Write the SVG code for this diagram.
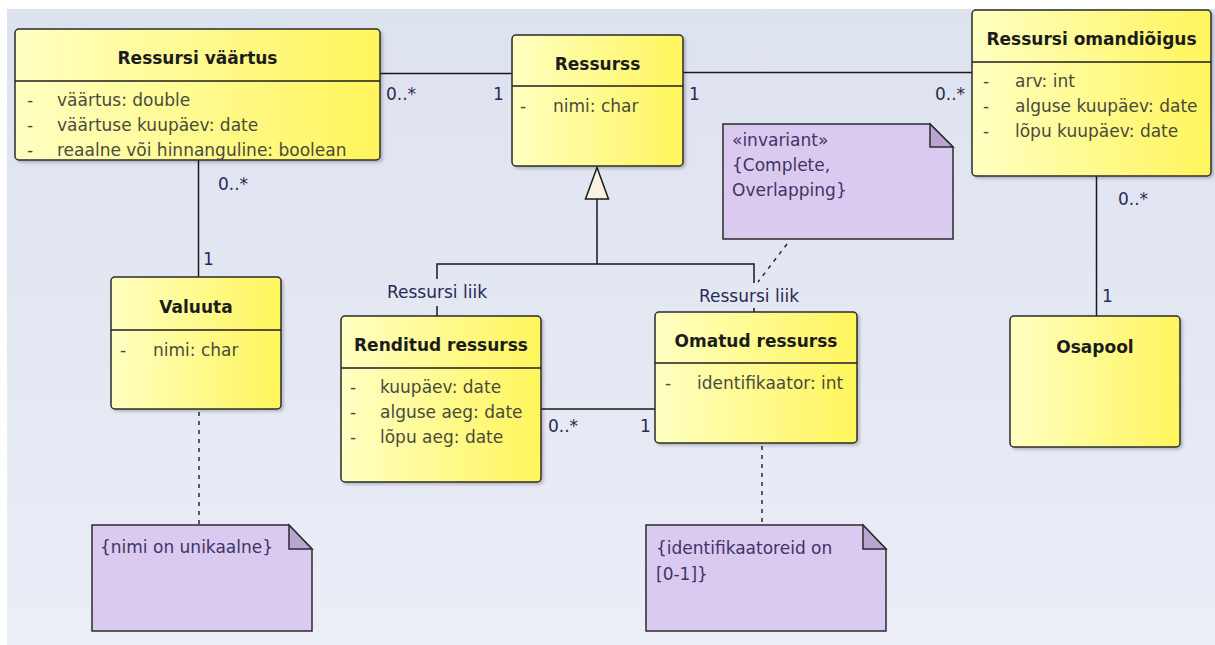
<svg xmlns="http://www.w3.org/2000/svg" width="1215" height="645" viewBox="0 0 1215 645">
  <defs>
    <linearGradient id="bg" x1="0" y1="0" x2="0" y2="1">
      <stop offset="0" stop-color="#dde2ef"/>
      <stop offset="1" stop-color="#ebeef7"/>
    </linearGradient>
    <linearGradient id="classFill" x1="0" y1="0" x2="1" y2="0">
      <stop offset="0" stop-color="#ffffc2"/>
      <stop offset="1" stop-color="#fff55c"/>
    </linearGradient>
    <filter id="shadow" x="-10%" y="-10%" width="120%" height="120%">
      <feDropShadow dx="2" dy="2" stdDeviation="1.5" flood-color="#000" flood-opacity="0.22"/>
    </filter>
    <style>
      .cls { fill: url(#classFill); stroke: #2b2b2b; stroke-width: 1.5; filter: url(#shadow); }
      .div { stroke: #1e1e1e; stroke-width: 1.5; }
      .note { fill: #dbcaef; stroke: #2b2b2b; stroke-width: 1.5; }
      .fold { fill: #b8a5d0; stroke: #2b2b2b; stroke-width: 1.5; stroke-linejoin: miter; }
      .title { font-family: "DejaVu Sans", sans-serif; font-weight: bold; font-size: 17px; fill: #1c1c1c; text-anchor: middle; }
      .attr { font-family: "DejaVu Sans", sans-serif; font-size: 17px; fill: #4a4a3c; }
      .lbl { font-family: "DejaVu Sans", sans-serif; font-size: 17px; fill: #2a2a55; }
      .ntext { font-family: "DejaVu Sans", sans-serif; font-size: 17px; fill: #3e3468; }
      .line { fill: none; stroke: #1a1a1a; stroke-width: 1.5; }
      .dash { fill: none; stroke: #2a2a2a; stroke-width: 1.5; stroke-dasharray: 4 5; }
    </style>
  </defs>

  <!-- canvas -->
  <rect x="0" y="0" width="1215" height="645" fill="#ffffff"/>
  <rect x="7" y="9" width="1208" height="636" fill="url(#bg)"/>

  <!-- connectors -->
  <g id="connectors">
    <!-- Ressursi väärtus — Ressurss -->
    <line class="line" x1="380" y1="73.5" x2="512" y2="73.5"/>
    <text class="lbl" x="386" y="100">0..*</text>
    <text class="lbl" x="493" y="100">1</text>
    <!-- Ressurss — Ressursi omandiõigus -->
    <line class="line" x1="683" y1="72.5" x2="972" y2="72.5"/>
    <text class="lbl" x="689" y="100">1</text>
    <text class="lbl" x="935" y="100">0..*</text>
    <!-- Ressursi väärtus — Valuuta -->
    <line class="line" x1="198.5" y1="160" x2="198.5" y2="277"/>
    <text class="lbl" x="218" y="190">0..*</text>
    <text class="lbl" x="203" y="265">1</text>
    <!-- Ressursi omandiõigus — Osapool -->
    <line class="line" x1="1096.5" y1="176" x2="1096.5" y2="316"/>
    <text class="lbl" x="1118" y="205">0..*</text>
    <text class="lbl" x="1102" y="302">1</text>
    <!-- Renditud ressurss — Omatud ressurss -->
    <line class="line" x1="541" y1="409" x2="655" y2="409"/>
    <text class="lbl" x="548" y="432">0..*</text>
    <text class="lbl" x="640" y="432">1</text>
    <!-- generalization to Ressurss -->
    <polyline class="line" points="437,279 437,264 754,264 754,283"/>
    <line class="line" x1="597" y1="264" x2="597" y2="199"/>
    <polygon points="597,167.5 585.5,199 608.5,199" fill="#fbf1e2" stroke="#1a1a1a" stroke-width="1.5"/>
    <line class="line" x1="437" y1="306" x2="437" y2="316"/>
    <line class="line" x1="754" y1="308" x2="754" y2="312"/>
    <text class="lbl" x="437" y="298" text-anchor="middle">Ressursi liik</text>
    <text class="lbl" x="749" y="302" text-anchor="middle">Ressursi liik</text>
    <!-- note links -->
    <line class="dash" x1="787" y1="244" x2="758" y2="282"/>
    <line class="dash" x1="199" y1="412" x2="199" y2="525"/>
    <line class="dash" x1="762" y1="446" x2="762" y2="525"/>
  </g>

  <!-- classes -->
  <g id="ressursi-vaartus">
    <rect class="cls" x="15" y="29" width="365" height="131" rx="4"/>
    <line class="div" x1="15" y1="81" x2="380" y2="81"/>
    <text class="title" x="197.5" y="64">Ressursi väärtus</text>
    <text class="attr" x="27" y="106">-</text>
    <text class="attr" x="57" y="106">väärtus: double</text>
    <text class="attr" x="27" y="131">-</text>
    <text class="attr" x="57" y="131">väärtuse kuupäev: date</text>
    <text class="attr" x="27" y="156">-</text>
    <text class="attr" x="57" y="156">reaalne või hinnanguline: boolean</text>
  </g>

  <g id="ressurss">
    <rect class="cls" x="512" y="35" width="171" height="131" rx="4"/>
    <line class="div" x1="512" y1="86" x2="683" y2="86"/>
    <text class="title" x="597.5" y="70">Ressurss</text>
    <text class="attr" x="520" y="112">-</text>
    <text class="attr" x="553" y="112">nimi: char</text>
  </g>

  <g id="ressursi-omandioigus">
    <rect class="cls" x="972" y="10" width="239" height="166" rx="4"/>
    <line class="div" x1="972" y1="62" x2="1211" y2="62"/>
    <text class="title" x="1091.5" y="45">Ressursi omandiõigus</text>
    <text class="attr" x="983" y="87">-</text>
    <text class="attr" x="1015" y="87">arv: int</text>
    <text class="attr" x="983" y="112">-</text>
    <text class="attr" x="1015" y="112">alguse kuupäev: date</text>
    <text class="attr" x="983" y="137">-</text>
    <text class="attr" x="1015" y="137">lõpu kuupäev: date</text>
  </g>

  <g id="valuuta">
    <rect class="cls" x="111" y="277" width="170" height="132" rx="4"/>
    <line class="div" x1="111" y1="330" x2="281" y2="330"/>
    <text class="title" x="196" y="313">Valuuta</text>
    <text class="attr" x="120" y="356">-</text>
    <text class="attr" x="153" y="356">nimi: char</text>
  </g>

  <g id="renditud-ressurss">
    <rect class="cls" x="341" y="316" width="200" height="166" rx="4"/>
    <line class="div" x1="341" y1="368" x2="541" y2="368"/>
    <text class="title" x="441" y="351">Renditud ressurss</text>
    <text class="attr" x="350" y="393">-</text>
    <text class="attr" x="380" y="393">kuupäev: date</text>
    <text class="attr" x="350" y="418">-</text>
    <text class="attr" x="380" y="418">alguse aeg: date</text>
    <text class="attr" x="350" y="443">-</text>
    <text class="attr" x="380" y="443">lõpu aeg: date</text>
  </g>

  <g id="omatud-ressurss">
    <rect class="cls" x="655" y="312" width="202" height="131" rx="4"/>
    <line class="div" x1="655" y1="363" x2="857" y2="363"/>
    <text class="title" x="756" y="347">Omatud ressurss</text>
    <text class="attr" x="665" y="389">-</text>
    <text class="attr" x="697" y="389">identifikaator: int</text>
  </g>

  <g id="osapool">
    <rect class="cls" x="1010" y="316" width="170" height="131" rx="4"/>
    <text class="title" x="1095" y="353">Osapool</text>
  </g>

  <!-- notes -->
  <g id="note-invariant">
    <path class="note" d="M723,124 H930 L953,147 V239 H723 Z"/>
    <path class="fold" d="M930,124 V147 H953 Z"/>
    <text class="ntext" x="732" y="146">«invariant»</text>
    <text class="ntext" x="732" y="171">{Complete,</text>
    <text class="ntext" x="732" y="196">Overlapping}</text>
  </g>

  <g id="note-nimi">
    <path class="note" d="M92,525 H289 L312,549 V631 H92 Z"/>
    <path class="fold" d="M289,525 V549 H312 Z"/>
    <text class="ntext" x="100" y="553">{nimi on unikaalne}</text>
  </g>

  <g id="note-identifikaator">
    <path class="note" d="M646,525 H863 L886,549 V631 H646 Z"/>
    <path class="fold" d="M863,525 V549 H886 Z"/>
    <text class="ntext" x="656" y="554">{identifikaatoreid on</text>
    <text class="ntext" x="656" y="580">[0-1]}</text>
  </g>
</svg>
